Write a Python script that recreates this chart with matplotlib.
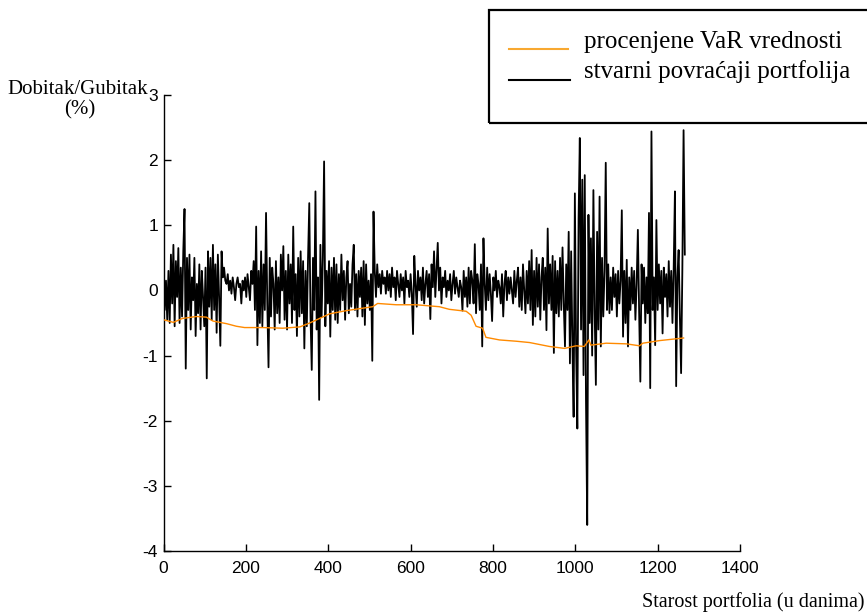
import matplotlib
matplotlib.use('Agg')
import matplotlib.pyplot as plt
from matplotlib.lines import Line2D
import numpy as np

plt.rcParams['axes.unicode_minus'] = False

# stvarni povracaji portfolija, one value every 3 days (day 0, 3, 6, ...)
returns = [
    0.25, -0.3, 0.15, -0.45, 0.3, -0.5, 0.55, -0.2, 0.7, -0.55, 0.45, -0.1, 0.65, -0.5, 0.35, -0.4, 0.6, 1.25, -1.2, 0.5,
    -0.3, 0.55, -0.6, 0.2, -0.15, 0.5, -0.7, 0.1, -0.35, 0.4, -0.6, 0.3, -0.1, -0.55, 0.35, -1.35, 0.6, -0.25, 0.5, -0.45,
    0.7, -0.3, 0.4, -0.65, 0.55, -0.1, -0.85, 0.6, 0.2, 0.35, 0.15, 0.1, 0.25, 0.0, 0.15, -0.05, 0.2, 0.05, -0.15, 0.1,
    0.2, 0.05, 0.1, -0.2, 0.15, 0.0, 0.2, -0.1, 0.25, 0.05, -0.15, 0.3, 0.1, 0.45, -0.3, 0.98, -0.84, 0.3, -0.5, 0.6,
    -0.55, 0.4, -0.3, 1.19, -0.2, -1.18, 0.5, -0.4, 0.35, 0.1, -0.6, 0.45, -0.35, 0.2, -0.5, 0.55, 0.0, 0.68, -0.45, 0.3,
    -0.6, 0.55, -0.2, 0.4, -0.5, 0.98, -0.3, 0.25, -0.7, 0.5, -0.4, 0.6, -0.35, 0.45, -0.89, 0.3, -0.55, 0.5, 1.34, -0.4,
    -1.22, 0.5, -0.3, 1.52, -0.6, 0.2, -1.68, 0.7, -0.4, 0.5, 1.98, -0.55, 0.3, -0.2, 0.45, -0.71, 0.35, -0.3, 0.5, -0.45,
    0.4, -0.5, 0.25, -0.3, 0.55, -0.15, 0.3, -0.45, 0.2, 0.45, -0.35, 0.1, -0.25, 0.4, 0.7, -0.3, 0.25, -0.4, 0.3, -0.1,
    0.35, -0.4, 0.45, -0.53, 0.4, -0.2, 0.15, -0.3, 0.25, -1.08, 1.21, 0.3, -0.1, 0.4, 0.05, 0.25, -0.05, 0.3, 0.1, 0.2,
    -0.05, 0.3, 0.0, 0.25, -0.1, 0.35, 0.05, 0.2, -0.15, 0.3, 0.1, -0.1, 0.25, 0.0, 0.2, -0.2, 0.3, 0.05, 0.15, -0.1,
    0.25, -0.05, -0.67, 0.53, 0.1, -0.25, 0.3, 0.0, 0.2, -0.15, 0.35, -0.2, 0.1, 0.3, -0.1, 0.25, -0.44, 0.4, 0.05, 0.6,
    -0.1, 0.3, 0.73, 0.0, 0.35, -0.2, 0.2, 0.05, 0.3, -0.1, 0.15, 0.0, 0.25, -0.15, 0.1, 0.3, -0.05, 0.2, 0.05, -0.1,
    0.15, 0.05, -0.31, 0.3, -0.1, 0.2, -0.25, 0.35, -0.2, 0.3, 0.15, -0.2, 0.71, -0.35, 0.25, 0.1, -0.3, 0.4, -0.86, 0.8,
    0.1, -0.3, 0.35, -0.15, 0.25, -0.05, -0.47, 0.2, 0.0, 0.3, -0.1, 0.15, 0.05, -0.2, 0.25, -0.4, 0.1, 0.3, -0.15, 0.2,
    -0.05, 0.2, 0.0, -0.2, 0.3, -0.1, 0.15, 0.35, -0.25, 0.2, -0.3, 0.4, 0.0, -0.35, 0.3, -0.2, 0.45, -0.3, 0.62, -0.53,
    0.3, -0.4, 0.5, -0.25, 0.4, -0.45, 0.2, 0.5, -0.3, 0.35, -0.61, 0.95, -0.2, 0.4, -0.3, 0.53, -0.96, 0.45, -0.35, 0.3,
    -0.4, 0.5, -0.3, 0.66, -0.2, -0.86, 0.4, -0.3, 0.9, -1.12, 0.6, -0.8, -1.94, 1.49, -0.9, -2.12, 1.1, 2.34, -0.6, 1.7,
    -1.3, 1.77, -1.68, -3.6, 1.16, -0.5, 0.8, -1.0, 1.54, -0.3, -1.45, 0.9, -0.6, 1.44, -0.86, 0.5, -0.4, 0.3, 1.96, -0.3,
    0.4, -0.35, 0.2, -0.3, 0.35, -0.1, 0.25, -0.4, 0.3, -0.2, 0.15, 1.23, -0.71, 0.3, -0.5, 0.47, -0.86, 0.2, -0.3, 0.35,
    -0.2, 0.3, -0.45, 0.1, 0.93, -0.3, -1.4, 0.4, -0.2, 0.35, -0.5, 0.2, -0.35, 1.19, -1.5, 2.44, -0.3, 0.2, -0.84, 1.08,
    -0.3, 0.4, -0.2, 0.3, -0.66, 0.35, -0.1, 0.25, -0.4, 0.45, -0.25, 0.3, -0.5, 0.35, 1.52, -1.47, 0.2, 0.62, -0.4, -1.27,
    0.3, 2.46, 0.55,
]
days = np.arange(len(returns)) * 3

# procenjene VaR vrednosti (day, value)
var_days = [0, 24, 46, 80, 104, 120, 153, 177, 197, 241, 290, 331, 355, 379, 403, 444, 508, 520,
            565, 613, 670, 694, 735, 747, 759, 775, 783, 816, 857, 889, 937, 974, 1002, 1022,
            1033, 1038, 1075, 1124, 1156, 1164, 1205, 1263]
var_vals = [-0.45, -0.49, -0.43, -0.40, -0.41, -0.47, -0.51, -0.55, -0.57, -0.57, -0.58, -0.56, -0.50,
            -0.43, -0.36, -0.31, -0.25, -0.20, -0.22, -0.22, -0.25, -0.29, -0.32, -0.38, -0.55, -0.58,
            -0.72, -0.76, -0.78, -0.80, -0.86, -0.89, -0.85, -0.86, -0.76, -0.84, -0.81, -0.82, -0.85,
            -0.81, -0.77, -0.73]

xticks = [0, 200, 400, 600, 800, 1000, 1200, 1400]
yticks = [-4, -3, -2, -1, 0, 1, 2, 3]

orange = '#ff8a00'
serif = 'Liberation Serif'

fig = plt.figure(figsize=(8.67, 6.16), dpi=100)
ax = fig.add_axes([0.1886, 0.1055, 0.6649, 0.7403])

ax.plot(days, returns, color='black', lw=1.3, zorder=2)
ax.plot(var_days, var_vals, color=orange, lw=1.0, zorder=3)

ax.set_xlim(0, 1400)
ax.set_ylim(-4, 3)
ax.set_xticks(xticks)
ax.set_yticks(yticks)
ax.tick_params(direction='in', length=5, width=1, labelsize=12.5, pad=7)
ax.tick_params(axis='y', pad=4)
for lab in ax.get_xticklabels() + ax.get_yticklabels():
    lab.set_family('Liberation Sans')
ax.spines['top'].set_visible(False)
ax.spines['right'].set_visible(False)
ax.spines['left'].set_linewidth(1)
ax.spines['bottom'].set_linewidth(1)

# axis labels placed like the original
fig.text(78 / 867, 1 - 94 / 616, 'Dobitak/Gubitak', family=serif, fontsize=15, ha='center', va='baseline')
fig.text(80 / 867, 1 - 114 / 616, '(%)', family=serif, fontsize=15, ha='center', va='baseline')
fig.text(865 / 867, 1 - 607 / 616, 'Starost portfolia (u danima)', family=serif, fontsize=14.5,
         ha='right', va='baseline')

# legend box, cut off at the right edge
box = plt.Rectangle((489 / 867, 1 - 123 / 616), 0.5, 113 / 616, transform=fig.transFigure,
                    fill=False, edgecolor='black', lw=1.6)
fig.add_artist(box)
fig.add_artist(Line2D([509 / 867, 568 / 867], [1 - 49 / 616, 1 - 49 / 616],
                      transform=fig.transFigure, color='#f8a830', lw=1.5))
fig.add_artist(Line2D([509 / 867, 570 / 867], [1 - 80 / 616, 1 - 80 / 616],
                      transform=fig.transFigure, color='black', lw=1.5))
fig.text(584 / 867, 1 - 48 / 616, 'procenjene VaR vrednosti', family=serif, fontsize=18, va='baseline')
fig.text(584 / 867, 1 - 78 / 616, 'stvarni povraćaji portfolija', family=serif, fontsize=18, va='baseline')

plt.savefig('out.png', dpi=100)
